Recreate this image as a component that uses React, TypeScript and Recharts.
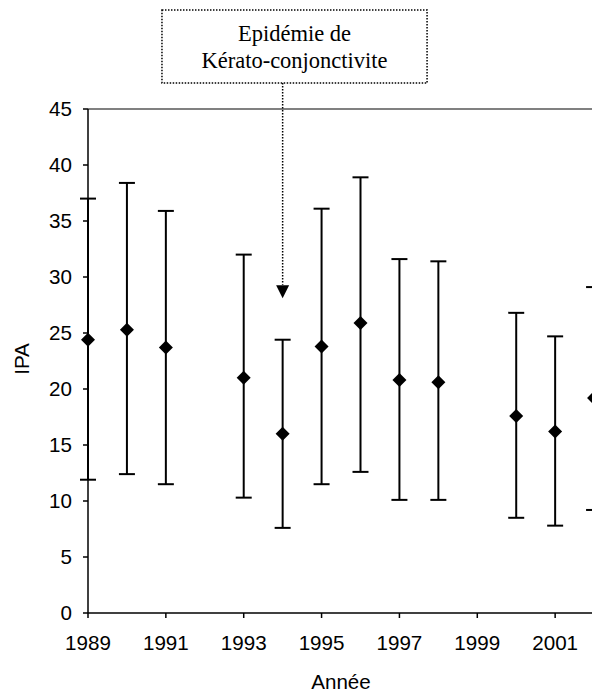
import React from 'react';
import {
  ScatterChart, Scatter, XAxis, YAxis, ErrorBar, ReferenceLine, ReferenceArea, ReferenceDot, Label,
} from 'recharts';

const years = [1989, 1990, 1991, 1993, 1994, 1995, 1996, 1997, 1998, 2000, 2001, 2002];
const means = [24.4, 25.3, 23.7, 21.0, 16.0, 23.8, 25.9, 20.8, 20.6, 17.6, 16.2, 19.2];
const lows = [11.9, 12.4, 11.5, 10.3, 7.6, 11.5, 12.6, 10.1, 10.1, 8.5, 7.8, 9.2];
const highs = [37.0, 38.4, 35.9, 32.0, 24.4, 36.1, 38.9, 31.6, 31.4, 26.8, 24.7, 29.1];

const xTicks = [1989, 1991, 1993, 1995, 1997, 1999, 2001];
const yTicks = [0, 5, 10, 15, 20, 25, 30, 35, 40, 45];

const annotationLines = ['Epidémie de', 'Kérato-conjonctivite'];
const epidemicYear = 1994;

const data = years.map((y, i) => ({
  year: y,
  ipa: means[i],
  err: [means[i] - lows[i], highs[i] - means[i]],
}));

const FONT = 'Arial, "Liberation Sans", sans-serif';
const SERIF = '"Times New Roman", "Liberation Serif", serif';
const FS = 20.6;

const Diamond = (props: any) => {
  const { cx, cy } = props;
  const r = 7;
  return (
    <polygon
      points={`${cx},${cy - r} ${cx + r},${cy} ${cx},${cy + r} ${cx - r},${cy}`}
      fill="#000"
    />
  );
};

const ArrowHead = (props: any) => {
  const { cx, cy } = props;
  return <polygon points={`${cx - 6.5},${cy - 13} ${cx + 6.5},${cy - 13} ${cx},${cy}`} fill="#000" />;
};

export default function App() {
  return (
    <div style={{ position: 'absolute', left: 0, top: 0, width: 592, height: 695, overflow: 'hidden', background: '#fff' }}>
      <ScatterChart width={633} height={695} margin={{ top: 109, right: 0, bottom: 0, left: 0 }}>
        <XAxis
          type="number"
          dataKey="year"
          domain={[1989, 2003]}
          ticks={xTicks}
          height={82}
          stroke="#000"
          strokeWidth={1.5}
          tickSize={5}
          tickMargin={17}
          tick={{ fill: '#000', fontSize: FS, fontFamily: FONT }}
        >
          <Label
            content={(p: any) => {
              const vb = p.viewBox;
              return (
                <text x={vb.x + 253} y={vb.y + 76} textAnchor="middle" fontSize={FS} fontFamily={FONT} fill="#000">
                  Année
                </text>
              );
            }}
          />
        </XAxis>
        <YAxis
          type="number"
          dataKey="ipa"
          domain={[0, 45]}
          ticks={yTicks}
          width={88}
          stroke="#000"
          strokeWidth={1.5}
          tickSize={5}
          tickMargin={11}
          tick={{ fill: '#000', fontSize: FS, fontFamily: FONT }}
        >
          <Label
            content={(p: any) => {
              const vb = p.viewBox;
              const x = vb.x + 21;
              const y = vb.y + vb.height / 2 - 2;
              return (
                <text
                  x={x}
                  y={y}
                  textAnchor="middle"
                  dominantBaseline="central"
                  transform={`rotate(-90, ${x}, ${y})`}
                  fontSize={FS}
                  fontFamily={FONT}
                  fill="#000"
                >
                  IPA
                </text>
              );
            }}
          />
        </YAxis>
        <ReferenceLine y={45} stroke="#808080" strokeWidth={2} />
        <ReferenceArea
          x1={1990.9}
          x2={1997.71}
          y1={47.32}
          y2={53.84}
          ifOverflow="visible"
          fill="#fff"
          fillOpacity={1}
          stroke="#000"
          strokeWidth={1.5}
          strokeDasharray="1.5 1.5"
          label={(p: any) => {
            const vb = p.viewBox;
            const cx = vb.x + vb.width / 2;
            return (
              <g>
                <text x={cx} y={vb.y + 31} textAnchor="middle" fontSize={22.5} fontFamily={SERIF} fill="#000">
                  {annotationLines[0]}
                </text>
                <text x={cx} y={vb.y + 58} textAnchor="middle" fontSize={22.5} fontFamily={SERIF} fill="#000">
                  {annotationLines[1]}
                </text>
              </g>
            );
          }}
        />
        <ReferenceLine
          segment={[{ x: epidemicYear, y: 47.32 }, { x: epidemicYear, y: 29.3 }]}
          ifOverflow="visible"
          stroke="#000"
          strokeWidth={1.5}
          strokeDasharray="1.5 1.5"
        />
        <ReferenceDot x={epidemicYear} y={28.1} ifOverflow="visible" shape={ArrowHead} />
        <Scatter data={data} dataKey="ipa" shape={Diamond} isAnimationActive={false}>
          <ErrorBar dataKey="err" direction="y" width={8} stroke="#000" strokeWidth={2} />
        </Scatter>
      </ScatterChart>
    </div>
  );
}
